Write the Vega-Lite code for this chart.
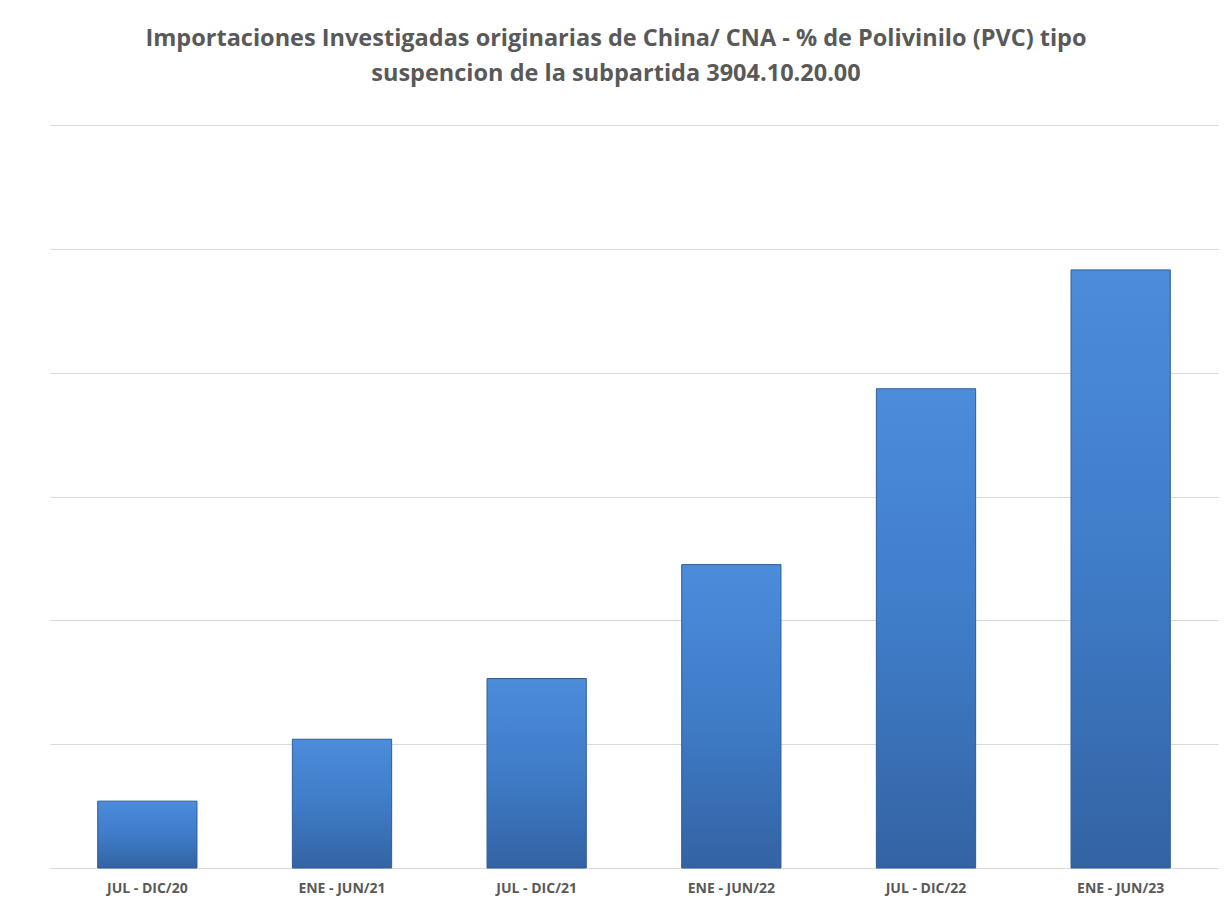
{
  "$schema": "https://vega.github.io/schema/vega-lite/v6.json",
  "width": 1168,
  "height": 743,
  "autosize": {"type": "none"},
  "padding": {"left": 50, "top": 125, "right": 14, "bottom": 31},
  "background": "white",
  "title": {
    "text": ["Importaciones  Investigadas originarias  de  China/ CNA - % de Polivinilo (PVC) tipo", "suspencion de la subpartida 3904.10.20.00"],
    "font": "Open Sans",
    "fontSize": 23.5,
    "fontWeight": "bold",
    "color": "#595959",
    "anchor": "middle",
    "frame": "group",
    "dx": -18,
    "offset": 40,
    "lineHeight": 35
  },
  "data": {
    "values": [
      {"periodo": "JUL - DIC/20", "valor": 0.54},
      {"periodo": "ENE - JUN/21", "valor": 1.04},
      {"periodo": "JUL - DIC/21", "valor": 1.53},
      {"periodo": "ENE - JUN/22", "valor": 2.45},
      {"periodo": "JUL - DIC/22", "valor": 3.87},
      {"periodo": "ENE - JUN/23", "valor": 4.83}
    ]
  },
  "mark": {
    "type": "bar",
    "stroke": "#2e5d9a",
    "strokeWidth": 1,
    "color": {
      "gradient": "linear",
      "x1": 0, "y1": 0, "x2": 0, "y2": 1,
      "stops": [
        {"offset": 0, "color": "#4c8cdb"},
        {"offset": 0.5, "color": "#3f7cc8"},
        {"offset": 1, "color": "#3363a3"}
      ]
    }
  },
  "encoding": {
    "x": {
      "field": "periodo",
      "type": "nominal",
      "sort": null,
      "title": null,
      "scale": {"paddingInner": 0.49, "paddingOuter": 0.245},
      "axis": {
        "labelAngle": 0,
        "ticks": false,
        "domain": false,
        "labelFont": "Open Sans",
        "labelFontSize": 14,
        "labelFontWeight": "bold",
        "labelColor": "#595959",
        "labelPadding": 13
      }
    },
    "y": {
      "field": "valor",
      "type": "quantitative",
      "title": null,
      "scale": {"domain": [0, 6]},
      "axis": {
        "values": [0, 1, 2, 3, 4, 5, 6],
        "labels": false,
        "ticks": false,
        "domain": false,
        "grid": true,
        "gridColor": "#d9d9d9",
        "gridWidth": 1
      }
    }
  },
  "config": {"view": {"stroke": null}}
}
